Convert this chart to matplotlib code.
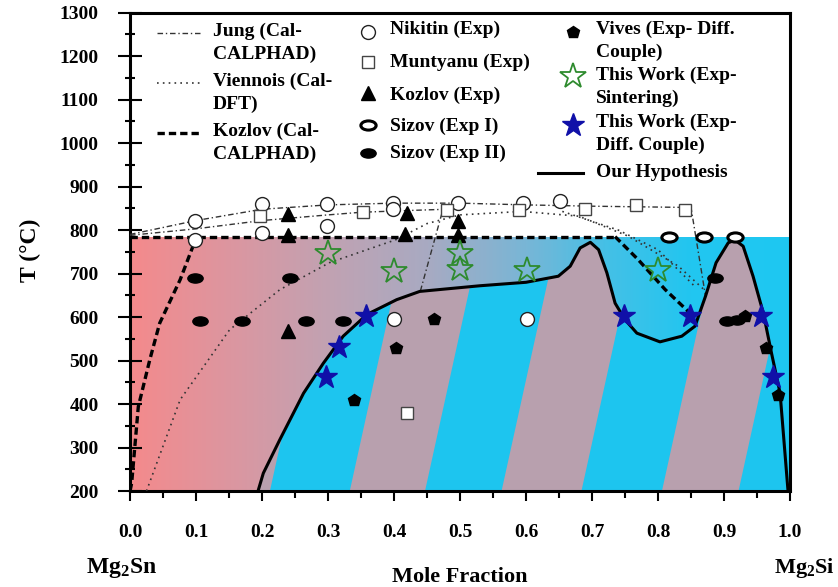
import numpy as np
import matplotlib
matplotlib.use("Agg")
import matplotlib.pyplot as plt
from matplotlib.path import Path
from matplotlib.patches import Polygon
from matplotlib.colors import LinearSegmentedColormap

plt.rcParams['font.family'] = ['Liberation Serif', 'DejaVu Serif']
plt.rcParams['font.weight'] = 'bold'
plt.rcParams['mathtext.fontset'] = 'custom'
plt.rcParams['mathtext.rm'] = 'Liberation Serif:bold'
plt.rcParams['mathtext.it'] = 'Liberation Serif:bold'
plt.rcParams['mathtext.bf'] = 'Liberation Serif:bold'

# DATA
# our hypothesis (boundary of the striped region)
hyp_x = [0.194, 0.202, 0.227, 0.263, 0.293, 0.323, 0.359, 0.404, 0.439, 0.53,
         0.60, 0.649, 0.667, 0.682, 0.6975, 0.71, 0.7225, 0.735, 0.75, 0.768,
         0.803, 0.836, 0.856, 0.872, 0.888, 0.9065, 0.9167, 0.929, 0.944,
         0.9596, 0.972, 0.985, 0.997]
hyp_T = [200, 241, 318, 425, 494, 556, 606, 640, 659, 672,
         680, 694, 717, 759, 772, 755, 702, 632, 594, 563,
         543, 556, 579, 648, 725, 771, 777, 763, 694,
         609, 517, 425, 200]

# stripe edges (mole fraction at 200 C) and their lean per degree
stripe_start = [0.098, 0.333, 0.563, 0.806]
stripe_end = [0.212, 0.447, 0.684, 0.922]
stripe_lean = 1.45e-4

# calculated lines
jung_x = [0.0, 0.1, 0.2, 0.3, 0.4, 0.5, 0.6, 0.7, 0.8, 0.85, 0.872]
jung_T = [790, 822, 848, 858, 862, 862, 858, 855, 853, 852, 648]
jung2_x = [0.0, 0.1, 0.2, 0.3, 0.35, 0.42, 0.48]
jung2_T = [788, 803, 822, 835, 841, 845, 848]
jung3_x = [0.44, 0.475]
jung3_T = [660, 852]

vien_x = [0.025, 0.076, 0.151, 0.227, 0.302, 0.403, 0.45, 0.5, 0.594, 0.68,
          0.755, 0.831, 0.872]
vien_T = [200, 410, 571, 663, 725, 778, 815, 835, 843, 832, 786, 717, 660]
vien2_x = [0.655, 0.74, 0.80, 0.856]
vien2_T = [843, 800, 755, 670]

koz_left_x = [0.0, 0.0025, 0.0126, 0.03, 0.045, 0.076, 0.101]
koz_left_T = [200, 218, 394, 502, 586, 686, 785]
koz_top_x = [0.0, 0.735]
koz_top_T = [785, 785]
koz_right_x = [0.735, 0.77, 0.811, 0.8535]
koz_right_T = [785, 732, 663, 602]

# experimental points
nik_x = [0.098, 0.098, 0.2, 0.2, 0.298, 0.298, 0.399, 0.399, 0.497, 0.596, 0.652, 0.4, 0.601]
nik_T = [820, 778, 859, 794, 859, 809, 863, 848, 863, 863, 866, 596, 596]
mun_x = [0.197, 0.353, 0.48, 0.589, 0.689, 0.766, 0.841, 0.42]
mun_T = [832, 841, 847, 847, 849, 857, 847, 379]
kozexp_x = [0.239, 0.239, 0.239, 0.42, 0.416, 0.497, 0.497]
kozexp_T = [836, 788, 567, 840, 792, 820, 788]
siz1_x = [0.816, 0.869, 0.917]
siz1_T = [784, 784, 784]
siz2_x = [0.098, 0.242, 0.106, 0.169, 0.267, 0.323, 0.886, 0.904, 0.919]
siz2_T = [690, 690, 590, 590, 590, 590, 690, 592, 594]
viv_x = [0.461, 0.403, 0.34, 0.932, 0.964, 0.982]
viv_T = [596, 529, 410, 602, 529, 421]
sint_x = [0.3, 0.4, 0.5, 0.5, 0.602, 0.80]
sint_T = [748, 707, 748, 710, 709, 709]
diff_x = [0.297, 0.317, 0.358, 0.748, 0.848, 0.956, 0.974]
diff_T = [463, 532, 602, 602, 602, 602, 463]

x_ticks = [0.0, 0.1, 0.2, 0.3, 0.4, 0.5, 0.6, 0.7, 0.8, 0.9, 1.0]
y_ticks = [200, 300, 400, 500, 600, 700, 800, 900, 1000, 1100, 1200, 1300]

grad_pos = [0.0, 0.15, 0.3, 0.45, 0.6, 0.72, 0.85, 1.0]
grad_col = ['#F48A8C', '#DC96A0', '#C1A2B2', '#A8AAC2', '#78B6D6', '#45C0E6', '#22C6F0', '#1EC8F2']
blue = '#1DC5EF'
mauve = '#B8A0AE'
fill_top = 783

# FIGURE
fig = plt.figure(figsize=(8.38, 5.87), dpi=100)
ax = fig.add_axes([130 / 838, 1 - 491 / 587, 660 / 838, 478.3 / 587])
ax.set_xlim(0, 1)
ax.set_ylim(200, 1300)

# background gradient
cmap = LinearSegmentedColormap.from_list('bg', list(zip(grad_pos, grad_col)))
grad = np.linspace(0, 1, 400).reshape(1, -1)
ax.imshow(grad, cmap=cmap, extent=(0, 1, 200, fill_top), aspect='auto', zorder=0)

# striped region under the hypothesis
hyp_poly = Polygon(np.column_stack([hyp_x, hyp_T]), closed=True,
                   facecolor=blue, edgecolor='none', zorder=1)
ax.add_patch(hyp_poly)
rise = 800 - 200
for a, b in zip(stripe_start, stripe_end):
    band = Polygon([(a, 200), (b, 200), (b + stripe_lean * rise, 800),
                    (a + stripe_lean * rise, 800)], closed=True,
                   facecolor=mauve, edgecolor='none', zorder=2)
    ax.add_patch(band)
    band.set_clip_path(hyp_poly)

ax.plot(hyp_x, hyp_T, color='black', lw=2.2, zorder=5)

# calculated lines
jung_style = dict(color='#333333', lw=1.0, dashes=(4, 2, 1, 2), zorder=4)
ax.plot(jung_x, jung_T, **jung_style)
ax.plot(jung2_x, jung2_T, **jung_style)
ax.plot(jung3_x, jung3_T, **jung_style)
vien_style = dict(color='#333333', lw=1.2, dashes=(1, 2.5), zorder=4)
ax.plot(vien_x, vien_T, **vien_style)
ax.plot(vien2_x, vien2_T, **vien_style)
koz_style = dict(color='black', lw=2.4, dashes=(2.2, 1.2), zorder=4)
ax.plot(koz_left_x, koz_left_T, **koz_style)
ax.plot(koz_top_x, koz_top_T, **koz_style)
ax.plot(koz_right_x, koz_right_T, **koz_style)

# ellipse marker
ell = Path.unit_circle()
ell = Path(ell.vertices * np.array([1.0, 0.6]), ell.codes)

mk = dict(ls='none', zorder=6)
ax.plot(nik_x, nik_T, marker='o', ms=10, mfc='white', mec='#222222', mew=1.0, **mk)
ax.plot(mun_x, mun_T, marker='s', ms=9, mfc='white', mec='#444444', mew=1.0, **mk)
ax.plot(kozexp_x, kozexp_T, marker='^', ms=10, mfc='black', mec='black', **mk)
ax.plot(siz1_x, siz1_T, marker=ell, ms=11, mfc='white', mec='black', mew=2.2, **mk)
ax.plot(siz2_x, siz2_T, marker=ell, ms=11, mfc='black', mec='black', **mk)
ax.plot(viv_x, viv_T, marker='p', ms=9, mfc='black', mec='black', **mk)
ax.plot(sint_x, sint_T, marker='*', ms=19, mfc='none', mec='#2E8B2E', mew=1.3, **mk)
ax.plot(diff_x, diff_T, marker='*', ms=17, mfc='#1010A8', mec='#1010A8', **mk)

# axes styling
ax.set_xticks(x_ticks)
ax.set_xticklabels([f"{v:.1f}" for v in x_ticks])
ax.set_xticks(np.arange(0.05, 1.0, 0.1), minor=True)
ax.set_yticks(y_ticks)
ax.set_yticks(np.arange(250, 1300, 100), minor=True)
ax.tick_params(axis='y', which='major', direction='inout', length=17, width=1.5,
               pad=14, labelsize=14)
ax.tick_params(axis='y', which='minor', direction='inout', length=7, width=1.5)
ax.tick_params(axis='x', which='major', direction='out', length=7, width=1.5,
               pad=17, labelsize=14)
ax.tick_params(axis='x', which='minor', direction='out', length=5, width=1.5)
for s in ax.spines.values():
    s.set_linewidth(2.2)

# legend, placed by hand (pixel positions)
def ax_xy(px, py):
    return ((px - 130) / 660, (491 - py) / 478.3)

def add_text(px, py, label):
    for i, line in enumerate(label.split('\n')):
        x, y = ax_xy(px, py + i * 23.5)
        ax.text(x, y, line, transform=ax.transAxes, fontsize=14,
                va='center', ha='left', zorder=10)

def add_line(px0, px1, py, style):
    (x0, y0), (x1, _) = ax_xy(px0, py), ax_xy(px1, py)
    ax.plot([x0, x1], [y0, y0], transform=ax.transAxes, clip_on=False, **style)

def add_marker(px, py, **kw):
    x, y = ax_xy(px, py)
    ax.plot([x], [y], transform=ax.transAxes, clip_on=False, ls='none', zorder=10, **kw)

add_line(157, 200, 33, jung_style)
add_text(213, 31, "Jung (Cal-\nCALPHAD)")
add_line(157, 200, 83, vien_style)
add_text(213, 81, "Viennois (Cal-\nDFT)")
add_line(157, 200, 133, koz_style)
add_text(213, 131, "Kozlov (Cal-\nCALPHAD)")

add_marker(368, 32, marker='o', ms=10, mfc='white', mec='#222222', mew=1.0)
add_text(390, 29, "Nikitin (Exp)")
add_marker(368, 62, marker='s', ms=9, mfc='white', mec='#444444', mew=1.0)
add_text(390, 62, "Muntyanu (Exp)")
add_marker(368, 93, marker='^', ms=10, mfc='black', mec='black')
add_text(390, 95, "Kozlov (Exp)")
add_marker(368, 125, marker=ell, ms=11, mfc='white', mec='black', mew=2.2)
add_text(390, 126, "Sizov (Exp I)")
add_marker(368, 153, marker=ell, ms=11, mfc='black', mec='black')
add_text(390, 153, "Sizov (Exp II)")

add_marker(573, 32, marker='p', ms=9, mfc='black', mec='black')
add_text(596, 29, "Vives (Exp- Diff.\nCouple)")
add_marker(573, 76, marker='*', ms=19, mfc='none', mec='#2E8B2E', mew=1.3)
add_text(596, 75, "This Work (Exp-\nSintering)")
add_marker(573, 125, marker='*', ms=17, mfc='#1010A8', mec='#1010A8')
add_text(596, 122, "This Work (Exp-\nDiff. Couple)")
add_line(538, 583, 173, dict(color='black', lw=2.2))
add_text(596, 173, "Our Hypothesis")

# axis titles
fig.text(30 / 838, 1 - 250 / 587, "T (\u00b0C)", rotation=90, fontsize=17,
         ha='center', va='center')
fig.text(460 / 838, 1 - 577 / 587, "Mole Fraction", fontsize=16, ha='center', va='center')
fig.text(122 / 838, 1 - 568 / 587, "Mg$_2$Sn", fontsize=17, ha='center', va='center')
fig.text(835 / 838, 1 - 568 / 587, "Mg$_2$Si", fontsize=16, ha='right', va='center')

fig.savefig("out.png", dpi=100)
